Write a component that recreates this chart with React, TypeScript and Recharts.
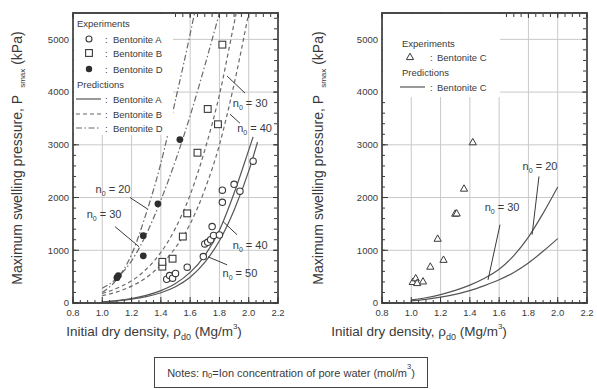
import React from "react";
import {
  ComposedChart,
  Line,
  Scatter,
  XAxis,
  YAxis,
  CartesianGrid,
  ReferenceLine,
  ReferenceDot,
  ReferenceArea,
  Legend,
} from "recharts";

const FONT = "'Liberation Sans', Arial, Helvetica, sans-serif";
const INK = "#3a3a3a";
const FRAME = "#4a4a4a";
const GRID = "#c9c9c9";

// ---- axes ----
const xTicks = [0.8, 1.0, 1.2, 1.4, 1.6, 1.8, 2.0, 2.2];
const yTicks = [0, 1000, 2000, 3000, 4000, 5000];
const xMinorTicks = [
  0.8, 0.85, 0.9, 0.95, 1.0, 1.05, 1.1, 1.15, 1.2, 1.25, 1.3, 1.35, 1.4, 1.45, 1.5,
  1.55, 1.6, 1.65, 1.7, 1.75, 1.8, 1.85, 1.9, 1.95, 2.0, 2.05, 2.1, 2.15, 2.2,
];
const yMinorTicks = [
  0, 200, 400, 600, 800, 1000, 1200, 1400, 1600, 1800, 2000, 2200, 2400, 2600, 2800,
  3000, 3200, 3400, 3600, 3800, 4000, 4200, 4400, 4600, 4800, 5000, 5200, 5400,
];
const xDomain = [0.8, 2.2];
const yDomain = [0, 5500];
// extent of the plotting window (used for the axes' domain data and the frame)
const windowExtent = [
  { x: 0.8, y: 0 },
  { x: 2.2, y: 5500 },
];

// ---- left panel: experiments ----
const expBentoniteA: [number, number][] = [
  [1.44, 450], [1.46, 520], [1.48, 470], [1.5, 560], [1.58, 680], [1.69, 880],
  [1.7, 1120], [1.72, 1150], [1.74, 1200], [1.76, 1280], [1.8, 1290], [1.75, 1450],
  [1.82, 1910], [1.82, 2140], [1.9, 2250], [1.94, 2120], [2.03, 2690],
];
const expBentoniteB: [number, number][] = [
  [1.41, 690], [1.41, 780], [1.48, 840], [1.55, 1260], [1.58, 1700],
  [1.65, 2850], [1.72, 3680], [1.79, 3390], [1.82, 4900],
];
const expBentoniteD: [number, number][] = [
  [1.1, 480], [1.11, 520], [1.28, 895], [1.28, 1276], [1.38, 1880], [1.53, 3100],
];

// ---- left panel: predictions ----
const predA_n40: [number, number][] = [
  [1.0, 20], [1.1, 45], [1.2, 85], [1.3, 145], [1.4, 235], [1.5, 370], [1.6, 580],
  [1.7, 900], [1.8, 1380], [1.9, 2080], [2.0, 2900], [2.03, 3150],
];
const predA_n50: [number, number][] = [
  [1.0, 15], [1.1, 38], [1.2, 72], [1.3, 120], [1.4, 195], [1.5, 310], [1.6, 490],
  [1.7, 770], [1.8, 1180], [1.9, 1760], [2.0, 2500], [2.06, 3050],
];
const predB_n30: [number, number][] = [
  [1.0, 180], [1.1, 280], [1.2, 420], [1.3, 640], [1.4, 960], [1.5, 1420], [1.6, 2050],
  [1.7, 2900], [1.8, 3950], [1.9, 5300], [1.915, 5500],
];
const predB_n40: [number, number][] = [
  [1.0, 140], [1.1, 210], [1.2, 320], [1.3, 480], [1.4, 720], [1.5, 1050], [1.6, 1500],
  [1.7, 2150], [1.8, 3000], [1.9, 4150], [2.0, 5500],
];
const predD_n20: [number, number][] = [
  [1.0, 200], [1.1, 450], [1.2, 920], [1.3, 1700], [1.4, 2650], [1.5, 3850],
  [1.6, 5100], [1.63, 5500],
];
const predD_n30: [number, number][] = [
  [1.0, 280], [1.1, 470], [1.2, 800], [1.3, 1300], [1.4, 1950], [1.5, 2700],
  [1.6, 3550], [1.7, 4500], [1.8, 5500],
];

// ---- right panel ----
const expBentoniteC: [number, number][] = [
  [1.01, 400], [1.03, 470], [1.04, 380], [1.08, 410], [1.13, 690], [1.18, 1220],
  [1.22, 820], [1.3, 1695], [1.31, 1700], [1.36, 2170], [1.42, 3050],
];
const predC_n20: [number, number][] = [
  [1.0, 60], [1.1, 100], [1.2, 160], [1.3, 240], [1.4, 340], [1.5, 470], [1.6, 640],
  [1.7, 900], [1.8, 1250], [1.9, 1700], [2.0, 2200],
];
const predC_n30: [number, number][] = [
  [1.0, 40], [1.1, 70], [1.2, 110], [1.3, 165], [1.4, 235], [1.5, 330], [1.6, 440],
  [1.7, 580], [1.8, 760], [1.9, 980], [2.0, 1220],
];

// ---- annotations (n0 labels with leader lines), in data units ----
type Ann = { n: string; tx: number; ty: number; x1: number; y1: number; x2: number; y2: number };
const annLeft: Ann[] = [
  { n: "20", tx: 1.073, ty: 2152, x1: 1.189, y1: 2000, x2: 1.305, y2: 1790 },
  { n: "30", tx: 1.012, ty: 1676, x1: 1.087, y1: 1448, x2: 1.251, y2: 1067 },
  { n: "30", tx: 2.01, ty: 3790, x1: 1.852, y1: 4305, x2: 1.975, y2: 3980 },
  { n: "40", tx: 2.04, ty: 3314, x1: 1.872, y1: 3581, x2: 1.94, y2: 3410 },
  { n: "40", tx: 2.01, ty: 1105, x1: 1.825, y1: 1543, x2: 1.92, y2: 1295 },
  { n: "50", tx: 1.94, ty: 571, x1: 1.722, y1: 876, x2: 1.852, y2: 724 },
];
const annRight: Ann[] = [
  { n: "20", tx: 1.879, ty: 2590, x1: 1.872, y1: 2400, x2: 1.825, y2: 1295 },
  { n: "30", tx: 1.62, ty: 1810, x1: 1.606, y1: 1486, x2: 1.524, y2: 438 },
];

const legendLeftNames = ["Bentonite A", "Bentonite B", "Bentonite D"];
const legendRightNames = ["Bentonite C"];

const pts = (a: [number, number][]) => a.map(([x, y]) => ({ x, y }));

// ---- shapes ----
const OpenCircle = (p: any) => (
  <circle cx={p.cx} cy={p.cy} r={3.2} fill="#fff" stroke={INK} strokeWidth={1.1} />
);
const OpenSquare = (p: any) => (
  <rect x={p.cx - 3.4} y={p.cy - 3.4} width={6.8} height={6.8} fill="#fff" stroke={INK} strokeWidth={1.1} />
);
const FilledCircle = (p: any) => <circle cx={p.cx} cy={p.cy} r={3.4} fill="#2e2e2e" />;
const OpenTriangle = (p: any) => (
  <path
    d={`M${p.cx},${p.cy - 3.8} L${p.cx + 3.6},${p.cy + 2.6} L${p.cx - 3.6},${p.cy + 2.6} Z`}
    fill="#fff"
    stroke={INK}
    strokeWidth={1}
  />
);

const MAJ = 5;
const MIN = 3;
const TICK_COLOR = "#3a3a3a";

// custom ticks: with tickMargin 0 the tick anchor (p.x, p.y) is the inner end of the tick
// mark, so the mark is drawn from there back to the axis.
const BottomTick = (p: any) => (
  <g>
    <line x1={p.x} x2={p.x} y1={p.y} y2={p.y + MAJ} stroke={TICK_COLOR} strokeWidth={1} />
    <text x={p.x} y={p.y + MAJ + 14} textAnchor="middle" fontSize={9.5} fill={INK} fontFamily={FONT}>
      {Number(p.payload.value).toFixed(1)}
    </text>
  </g>
);
const LeftTick = (p: any) => (
  <g>
    <line x1={p.x - MAJ} x2={p.x} y1={p.y} y2={p.y} stroke={TICK_COLOR} strokeWidth={1} />
    <text x={p.x - MAJ - 5} y={p.y} dy="0.35em" textAnchor="end" fontSize={9.5} fill={INK} fontFamily={FONT}>
      {p.payload.value}
    </text>
  </g>
);
const markTick = (side: "top" | "bottom" | "left" | "right", size: number) => (p: any) => {
  if (side === "bottom")
    return <line x1={p.x} x2={p.x} y1={p.y} y2={p.y + size} stroke={TICK_COLOR} strokeWidth={1} />;
  if (side === "top")
    return <line x1={p.x} x2={p.x} y1={p.y - size} y2={p.y} stroke={TICK_COLOR} strokeWidth={1} />;
  if (side === "left")
    return <line x1={p.x - size} x2={p.x} y1={p.y} y2={p.y} stroke={TICK_COLOR} strokeWidth={1} />;
  return <line x1={p.x} x2={p.x + size} y1={p.y} y2={p.y} stroke={TICK_COLOR} strokeWidth={1} />;
};
const BottomMinor = markTick("bottom", MIN);
const LeftMinor = markTick("left", MIN);
const TopMajor = markTick("top", MAJ);
const TopMinor = markTick("top", MIN);
const RightMajor = markTick("right", MAJ);
const RightMinor = markTick("right", MIN);

const AnnText = ({ viewBox, n }: any) => {
  const cx = viewBox.x + (viewBox.width || 0) / 2;
  const cy = viewBox.y + (viewBox.height || 0) / 2;
  return (
    <text x={cx} y={cy} dy="0.35em" textAnchor="middle" fontSize={11} fill={INK} fontFamily={FONT}>
      <tspan>n</tspan>
      <tspan dy={3} fontSize={7}>0</tspan>
      <tspan dy={-3}>{` = ${n}`}</tspan>
    </text>
  );
};

const txt = { fontSize: 9.5, fill: INK, fontFamily: FONT };

const LegendLeft = () => (
  <svg width={100} height={122} style={{ display: "block", overflow: "visible" }}>
    <rect x={1} y={1} width={99} height={121} fill="#fff" />
    <text x={4} y={13.5} {...txt}>Experiments</text>
    <circle cx={16} cy={26} r={3} fill="#fff" stroke={INK} strokeWidth={1.1} />
    <text x={32} y={29.5} {...txt}>:</text>
    <text x={40} y={29.5} {...txt}>{legendLeftNames[0]}</text>
    <rect x={12.6} y={36.6} width={6.8} height={6.8} fill="#fff" stroke={INK} strokeWidth={1.1} />
    <text x={32} y={43.5} {...txt}>:</text>
    <text x={40} y={43.5} {...txt}>{legendLeftNames[1]}</text>
    <circle cx={16} cy={56} r={3.2} fill="#2e2e2e" />
    <text x={32} y={59.5} {...txt}>:</text>
    <text x={40} y={59.5} {...txt}>{legendLeftNames[2]}</text>
    <text x={4} y={74.5} {...txt}>Predictions</text>
    <line x1={3} x2={28} y1={86} y2={86} stroke="#555" strokeWidth={1.2} />
    <text x={32} y={89.5} {...txt}>:</text>
    <text x={40} y={89.5} {...txt}>{legendLeftNames[0]}</text>
    <line x1={3} x2={28} y1={101} y2={101} stroke="#666" strokeWidth={1.1} strokeDasharray="4 3" />
    <text x={32} y={104.5} {...txt}>:</text>
    <text x={40} y={104.5} {...txt}>{legendLeftNames[1]}</text>
    <line x1={3} x2={28} y1={115} y2={115} stroke="#666" strokeWidth={1.1} strokeDasharray="6 2.5 1.5 2.5" />
    <text x={32} y={118.5} {...txt}>:</text>
    <text x={40} y={118.5} {...txt}>{legendLeftNames[2]}</text>
  </svg>
);

const LegendRight = () => (
  <svg width={118} height={84} style={{ display: "block", overflow: "visible" }}>
    <rect x={1} y={1} width={117} height={83} fill="#fff" />
    <text x={20} y={33.5} {...txt}>Experiments</text>
    <path d="M28,40.2 L31.6,46.6 L24.4,46.6 Z" fill="#fff" stroke={INK} strokeWidth={1} />
    <text x={48} y={47.5} {...txt}>:</text>
    <text x={55} y={47.5} {...txt}>{legendRightNames[0]}</text>
    <text x={20} y={62.5} {...txt}>Predictions</text>
    <line x1={18} x2={43} y1={74} y2={74} stroke="#555" strokeWidth={1.2} />
    <text x={48} y={77.5} {...txt}>:</text>
    <text x={55} y={77.5} {...txt}>{legendRightNames[0]}</text>
  </svg>
);

type LineSpec = { data: [number, number][]; dash?: string; color: string };
type ScatterSpec = { data: [number, number][]; shape: any };

const Panel = ({
  lines,
  scatters,
  anns,
  legend,
  legendBox,
}: {
  lines: LineSpec[];
  scatters: ScatterSpec[];
  anns: Ann[];
  legend: () => any;
  legendBox: { w: number; h: number };
}) => (
  <ComposedChart
    width={290}
    height={330}
    data={windowExtent}
    margin={{ top: 13, right: 12, bottom: 27, left: 73 }}
  >
    <CartesianGrid xAxisId="main" yAxisId="main" stroke={GRID} strokeWidth={1} />
    {/* main axes: labels outside, major ticks inward */}
    <XAxis
      xAxisId="main" dataKey="x" type="number" domain={xDomain} ticks={xTicks} allowDataOverflow
      orientation="bottom" mirror height={1} tickSize={MAJ} tickMargin={0}
      axisLine={false} tickLine={false} tick={<BottomTick />} interval={0}
    />
    <YAxis
      yAxisId="main" dataKey="y" type="number" domain={yDomain} ticks={yTicks} allowDataOverflow
      orientation="left" mirror width={1} tickSize={MAJ} tickMargin={0}
      axisLine={false} tickLine={false} tick={<LeftTick />} interval={0}
    />
    <XAxis
      xAxisId="bMin" dataKey="x" type="number" domain={xDomain} ticks={xMinorTicks} allowDataOverflow
      orientation="bottom" mirror height={1} tickSize={MIN} tickMargin={0} axisLine={false}
      tickLine={false} tick={<BottomMinor />} interval={0}
    />
    <YAxis
      yAxisId="lMin" dataKey="y" type="number" domain={yDomain} ticks={yMinorTicks} allowDataOverflow
      orientation="left" mirror width={1} tickSize={MIN} tickMargin={0} axisLine={false}
      tickLine={false} tick={<LeftMinor />} interval={0}
    />
    <XAxis
      xAxisId="tMaj" dataKey="x" type="number" domain={xDomain} ticks={xTicks} allowDataOverflow
      orientation="top" mirror height={1} tickSize={MAJ} tickMargin={0} axisLine={false}
      tickLine={false} tick={<TopMajor />} interval={0}
    />
    <XAxis
      xAxisId="tMin" dataKey="x" type="number" domain={xDomain} ticks={xMinorTicks} allowDataOverflow
      orientation="top" mirror height={1} tickSize={MIN} tickMargin={0} axisLine={false}
      tickLine={false} tick={<TopMinor />} interval={0}
    />
    <YAxis
      yAxisId="rMaj" dataKey="y" type="number" domain={yDomain} ticks={yTicks} allowDataOverflow
      orientation="right" mirror width={1} tickSize={MAJ} tickMargin={0} axisLine={false}
      tickLine={false} tick={<RightMajor />} interval={0}
    />
    <YAxis
      yAxisId="rMin" dataKey="y" type="number" domain={yDomain} ticks={yMinorTicks} allowDataOverflow
      orientation="right" mirror width={1} tickSize={MIN} tickMargin={0} axisLine={false}
      tickLine={false} tick={<RightMinor />} interval={0}
    />
    <Legend
      layout="vertical"
      align="center"
      verticalAlign="middle"
      content={legend}
      wrapperStyle={{ left: 73, top: 13, width: legendBox.w, height: legendBox.h, margin: 0, padding: 0 }}
    />
    {lines.map((l, i) => (
      <Line
        key={"l" + i}
        xAxisId="main"
        yAxisId="main"
        data={pts(l.data)}
        dataKey="y"
        type="monotone"
        dot={false}
        activeDot={false}
        stroke={l.color}
        strokeWidth={1.2}
        strokeDasharray={l.dash}
        isAnimationActive={false}
      />
    ))}
    {anns.map((a, i) => (
      <ReferenceLine
        key={"al" + i}
        xAxisId="main"
        yAxisId="main"
        ifOverflow="visible"
        segment={[{ x: a.x1, y: a.y1 }, { x: a.x2, y: a.y2 }]}
        stroke={INK}
        strokeWidth={1}
      />
    ))}
    {scatters.map((s, i) => (
      <Scatter
        key={"s" + i}
        xAxisId="main"
        yAxisId="main"
        data={pts(s.data)}
        shape={s.shape}
        isAnimationActive={false}
      />
    ))}
    {anns.map((a, i) => (
      <ReferenceDot
        key={"at" + i}
        xAxisId="main"
        yAxisId="main"
        x={a.tx}
        y={a.ty}
        r={0}
        fill="none"
        stroke="none"
        ifOverflow="visible"
        label={{ content: (p: any) => <AnnText viewBox={p.viewBox} n={a.n} /> }}
      />
    ))}
    <ReferenceArea
      xAxisId="main"
      yAxisId="main"
      x1={windowExtent[0].x}
      x2={windowExtent[1].x}
      y1={windowExtent[0].y}
      y2={windowExtent[1].y}
      ifOverflow="visible"
      fill="none"
      fillOpacity={0}
      stroke={FRAME}
      strokeWidth={1.8}
    />
  </ComposedChart>
);

const yTitle = (
  <>
    Maximum swelling pressure, P
    <span style={{ fontSize: 8, position: "relative", top: 3, marginLeft: 7 }}>smax</span> (kPa)
  </>
);
const xTitle = (
  <>
    Initial dry density, ρ
    <span style={{ fontSize: 9, position: "relative", top: 4 }}>d0</span> (Mg/m
    <span style={{ fontSize: 8, position: "relative", top: -7 }}>3</span>)
  </>
);

const titleBase: React.CSSProperties = {
  position: "absolute",
  fontFamily: FONT,
  color: INK,
  whiteSpace: "nowrap",
  textAlign: "center",
};

export default function App() {
  return (
    <div style={{ position: "absolute", left: 0, top: 0, width: 597, height: 389, background: "#fff", fontFamily: FONT }}>
      <div style={{ position: "absolute", left: 0, top: 0 }}>
        <Panel
          lines={[
            { data: predD_n20, dash: "6 2.5 1.5 2.5", color: "#6a6a6a" },
            { data: predD_n30, dash: "6 2.5 1.5 2.5", color: "#6a6a6a" },
            { data: predB_n30, dash: "4 3", color: "#6a6a6a" },
            { data: predB_n40, dash: "4 3", color: "#6a6a6a" },
            { data: predA_n40, color: "#555" },
            { data: predA_n50, color: "#555" },
          ]}
          scatters={[
            { data: expBentoniteB, shape: OpenSquare },
            { data: expBentoniteA, shape: OpenCircle },
            { data: expBentoniteD, shape: FilledCircle },
          ]}
          anns={annLeft}
          legend={LegendLeft}
          legendBox={{ w: 100, h: 122 }}
        />
      </div>
      <div style={{ position: "absolute", left: 309, top: 0 }}>
        <Panel
          lines={[
            { data: predC_n20, color: "#555" },
            { data: predC_n30, color: "#555" },
          ]}
          scatters={[{ data: expBentoniteC, shape: OpenTriangle }]}
          anns={annRight}
          legend={LegendRight}
          legendBox={{ w: 118, h: 84 }}
        />
      </div>

      <div style={{ ...titleBase, left: 17 - 160, top: 158 - 10, width: 320, height: 20, lineHeight: "20px", fontSize: 14, transform: "rotate(-90deg)" }}>
        {yTitle}
      </div>
      <div style={{ ...titleBase, left: 318 - 160, top: 158 - 10, width: 320, height: 20, lineHeight: "20px", fontSize: 14, transform: "rotate(-90deg)" }}>
        {yTitle}
      </div>
      <div style={{ ...titleBase, left: 154 - 130, top: 322, width: 260, height: 20, lineHeight: "20px", fontSize: 13.5 }}>
        {xTitle}
      </div>
      <div style={{ ...titleBase, left: 419 - 130, top: 322, width: 260, height: 20, lineHeight: "20px", fontSize: 13.5 }}>
        {xTitle}
      </div>
      <div
        style={{
          position: "absolute",
          left: 154,
          top: 357,
          width: 274,
          height: 31,
          boxSizing: "border-box",
          border: "1px solid #444",
          fontFamily: FONT,
          fontSize: 11,
          color: INK,
          display: "flex",
          alignItems: "center",
          justifyContent: "center",
          whiteSpace: "nowrap",
        }}
      >
        Notes: n<span style={{ fontSize: 7.5, position: "relative", top: 3 }}>0</span>=Ion concentration of pore water (mol/m
        <span style={{ fontSize: 7.5, position: "relative", top: -6 }}>3</span>)
      </div>
    </div>
  );
}
